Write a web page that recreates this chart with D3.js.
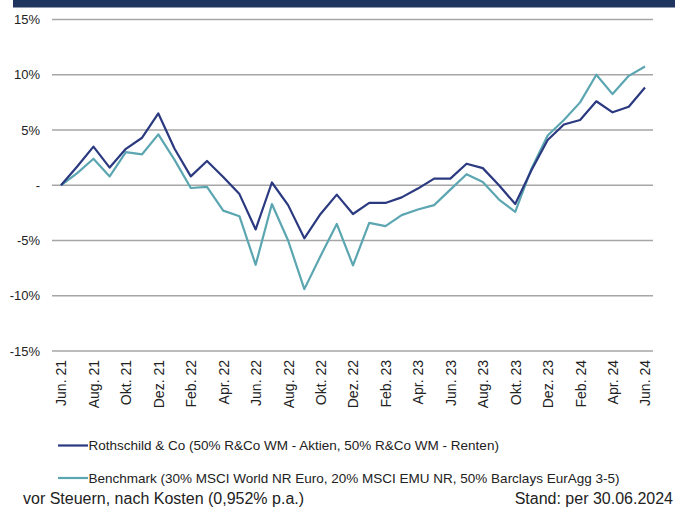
<!DOCTYPE html>
<html>
<head>
<meta charset="utf-8">
<script src="https://cdn.jsdelivr.net/npm/d3@7"></script>
<style>
  body { margin: 0; background: #fff; }
  svg { display: block; font-family: "Liberation Sans", Arial, sans-serif; }
</style>
</head>
<body>
<div id="chart"></div>
<script>
// Monate Jun 21 .. Jun 24
let monate = ["Jun. 21","Jul. 21","Aug. 21","Sep. 21","Okt. 21","Nov. 21","Dez. 21",
  "Jan. 22","Feb. 22","Mär. 22","Apr. 22","Mai. 22","Jun. 22","Jul. 22","Aug. 22","Sep. 22","Okt. 22","Nov. 22","Dez. 22",
  "Jan. 23","Feb. 23","Mär. 23","Apr. 23","Mai. 23","Jun. 23","Jul. 23","Aug. 23","Sep. 23","Okt. 23","Nov. 23","Dez. 23",
  "Jan. 24","Feb. 24","Mär. 24","Apr. 24","Mai. 24","Jun. 24"];

// nur jeder zweite Monat wird beschriftet
let tickLabels = ["Jun. 21","Aug. 21","Okt. 21","Dez. 21","Feb. 22","Apr. 22","Jun. 22","Aug. 22","Okt. 22","Dez. 22",
  "Feb. 23","Apr. 23","Jun. 23","Aug. 23","Okt. 23","Dez. 23","Feb. 24","Apr. 24","Jun. 24"];

let yTicks = [-15, -10, -5, 0, 5, 10, 15];

let rothschild = [0, 1.7, 3.5, 1.6, 3.3, 4.3, 6.5,
  3.3, 0.8, 2.2, 0.75, -0.8, -4.0, 0.25, -1.8, -4.8, -2.6, -0.85, -2.6,
  -1.6, -1.6, -1.1, -0.3, 0.6, 0.6, 1.95, 1.55, 0.0, -1.7, 1.35, 4.1,
  5.5, 5.9, 7.6, 6.6, 7.1, 8.85];

let benchmark = [0, 1.1, 2.4, 0.8, 3.0, 2.8, 4.6,
  2.3, -0.25, -0.15, -2.3, -2.8, -7.2, -1.7, -5.0, -9.4, -6.4, -3.5, -7.25,
  -3.4, -3.7, -2.7, -2.2, -1.8, -0.4, 1.0, 0.3, -1.3, -2.4, 1.5, 4.5,
  5.9, 7.5, 10.0, 8.25, 9.9, 10.75];

let legende = [
  { name: "Rothschild & Co (50% R&Co WM - Aktien, 50% R&Co WM - Renten)", farbe: "#2b3a80" },
  { name: "Benchmark (30% MSCI World NR Euro, 20% MSCI EMU NR, 50% Barclays EurAgg 3-5)", farbe: "#5ba6b1" }
];

var svgWidth = 689;
var svgHeight = 508;

var svg = d3.select("#chart")
  .append("svg")
  .attr("width", svgWidth)
  .attr("height", svgHeight);

// dunkler Balken oben
svg.append("rect")
  .attr("x", 13).attr("y", 0)
  .attr("width", 662).attr("height", 7.5)
  .attr("fill", "#1f3560");

var xScale = d3.scalePoint()
  .domain(monate)
  .range([61, 645]);

var yScale = d3.scaleLinear()
  .domain([-15, 15])
  .range([351, 19.5]);

// Gitterlinien
svg.append("g")
  .selectAll("line")
  .data(yTicks)
  .enter()
  .append("line")
  .attr("x1", 52).attr("x2", 653)
  .attr("y1", d => yScale(d)).attr("y2", d => yScale(d))
  .attr("stroke", "#a6a6a6")
  .attr("stroke-width", 1.5);

// Y-Achse
var leftAxis = d3.axisLeft(yScale)
  .tickValues(yTicks)
  .tickSize(0)
  .tickPadding(0)
  .tickFormat(d => d == 0 ? "-" : d + "%");

var yAxisG = svg.append("g")
  .attr("transform", "translate(40,0)")
  .call(leftAxis);
yAxisG.select(".domain").remove();
yAxisG.selectAll("text")
  .attr("font-size", "13px")
  .attr("font-family", "Liberation Sans, Arial, sans-serif")
  .attr("fill", "#222");

// X-Achse (gedrehte Beschriftung)
var bottomAxis = d3.axisBottom(xScale)
  .tickValues(tickLabels)
  .tickSize(0)
  .tickPadding(0);

var xAxisG = svg.append("g")
  .attr("transform", "translate(0,360)")
  .call(bottomAxis);
xAxisG.select(".domain").remove();
xAxisG.selectAll("text")
  .attr("font-size", "14px")
  .attr("font-family", "Liberation Sans, Arial, sans-serif")
  .attr("fill", "#222")
  .style("text-anchor", "end")
  .attr("x", 0)
  .attr("y", 0)
  .attr("dx", 0)
  .attr("dy", "0.35em")
  .attr("transform", "rotate(-90)");

// Linien
var drawLine = d3.line()
  .x((d, i) => xScale(monate[i]))
  .y(d => yScale(d));

svg.append("path")
  .attr("d", drawLine(benchmark))
  .attr("fill", "none")
  .attr("stroke", legende[1].farbe)
  .attr("stroke-width", 2.2)
  .attr("stroke-linejoin", "round");

svg.append("path")
  .attr("d", drawLine(rothschild))
  .attr("fill", "none")
  .attr("stroke", legende[0].farbe)
  .attr("stroke-width", 2.2)
  .attr("stroke-linejoin", "round");

// Legende
var legendG = svg.append("g");
legende.forEach(function (l, i) {
  var y = 445.5 + i * 32.5;
  legendG.append("line")
    .attr("x1", 58).attr("x2", 88)
    .attr("y1", y).attr("y2", y)
    .attr("stroke", l.farbe)
    .attr("stroke-width", 2.2);
  legendG.append("text")
    .attr("x", 88.5)
    .attr("y", y)
    .attr("dy", "0.35em")
    .attr("font-size", "13.5px")
    .attr("fill", "#222")
    .text(l.name);
});

// Fusszeile
svg.append("text")
  .attr("x", 23).attr("y", 504)
  .attr("font-size", "16px")
  .attr("fill", "#222")
  .text("vor Steuern, nach Kosten (0,952% p.a.)");

svg.append("text")
  .attr("x", 673).attr("y", 504)
  .attr("text-anchor", "end")
  .attr("font-size", "16px")
  .attr("fill", "#222")
  .text("Stand: per 30.06.2024");
</script>
</body>
</html>
